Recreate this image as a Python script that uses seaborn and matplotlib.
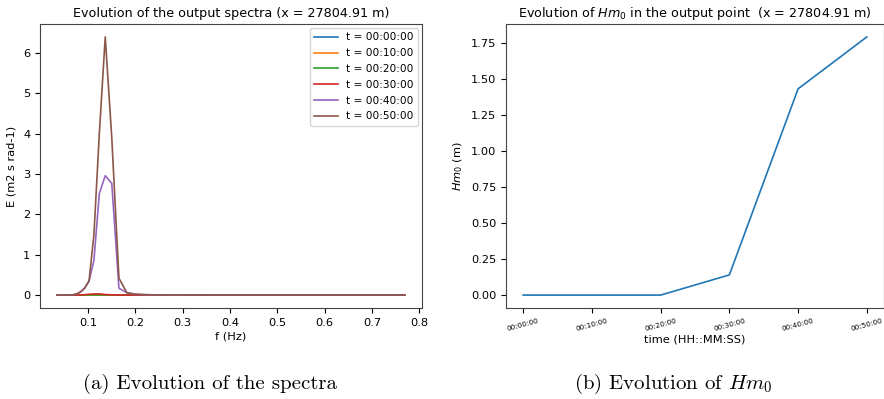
import numpy as np
import pandas as pd
import matplotlib
matplotlib.use("Agg")
import matplotlib.pyplot as plt
import seaborn as sns

# ---------------- data ----------------
freq = [0.0357, 0.0393, 0.0433, 0.0476, 0.0524, 0.0577, 0.0635, 0.0699, 0.0769,
        0.0847, 0.0932, 0.1026, 0.1129, 0.1243, 0.1368, 0.1506, 0.1657, 0.1824,
        0.2008, 0.2210, 0.2432, 0.2677, 0.2947, 0.3243, 0.3570, 0.3930, 0.4325,
        0.4761, 0.5240, 0.5767, 0.6348, 0.6987, 0.7690]

times = ["00:00:00", "00:10:00", "00:20:00", "00:30:00", "00:40:00", "00:50:00"]

E_t00 = [0.0] * 33
E_t10 = [0.0] * 33
E_t20 = [0, 0, 0, 0, 0, 0, 0, 0, 0, 0, 0.001, 0.002, 0.004, 0.005, 0.003, 0.001,
         0, 0, 0, 0, 0, 0, 0, 0, 0, 0, 0, 0, 0, 0, 0, 0, 0]
E_t30 = [0, 0, 0, 0, 0, 0, 0, 0, 0.001, 0.003, 0.01, 0.02, 0.028, 0.03, 0.015, 0.005,
         0.002, 0.001, 0, 0, 0, 0, 0, 0, 0, 0, 0, 0, 0, 0, 0, 0, 0]
E_t40 = [0, 0, 0, 0, 0, 0, 0.002, 0.01, 0.03, 0.08, 0.17, 0.35, 0.86, 2.52, 2.96,
         2.77, 0.17, 0.06, 0.02, 0.01, 0.005, 0.003, 0.002, 0.001, 0, 0, 0, 0, 0, 0, 0, 0, 0]
E_t50 = [0, 0, 0, 0, 0, 0, 0.002, 0.01, 0.03, 0.08, 0.17, 0.35, 1.5, 4.0, 6.40,
         3.9, 0.42, 0.06, 0.02, 0.01, 0.005, 0.003, 0.002, 0.001, 0, 0, 0, 0, 0, 0, 0, 0, 0]

spectra = [E_t00, E_t10, E_t20, E_t30, E_t40, E_t50]

hm0 = [0.0, 0.0, 0.0, 0.14, 1.43, 1.79]

# ---------------- figure ----------------
plt.rcParams["mathtext.fontset"] = "dejavusans"
plt.rcParams["axes.edgecolor"] = "#444444"
fig = plt.figure(figsize=(8.84, 3.99), dpi=100)
ax1 = fig.add_axes([40 / 884, (399 - 308) / 399, (422 - 40) / 884, (308 - 24) / 399])
ax2 = fig.add_axes([506 / 884, (399 - 308) / 399, (884 - 506) / 884, (308 - 24) / 399])

palette = ["#1f77b4", "#ff7f0e", "#2ca02c", "#d62728", "#9467bd", "#8c564b"]
rows = []
for t, E in zip(times, spectra):
    for f, e in zip(freq, E):
        rows.append({"f": f, "E": e, "t": "t = " + t})
df = pd.DataFrame(rows)
sns.lineplot(data=df, x="f", y="E", hue="t", palette=palette, ax=ax1, lw=1.2)
ax1.set_xlabel("f (Hz)", fontsize=8.2, labelpad=3)
ax1.set_ylabel("E (m2 s rad-1)", fontsize=8.2, labelpad=5)
ax1.set_title("Evolution of the output spectra (x = 27804.91 m)", fontsize=9.2, pad=5)
ax1.tick_params(labelsize=8.2, width=0.8, length=3.5)
ax1.set_xticks([0.1, 0.2, 0.3, 0.4, 0.5, 0.6, 0.7, 0.8])
ax1.set_yticks([0, 1, 2, 3, 4, 5, 6])
ax1.legend(loc="upper right", fontsize=7.6, title=None, handlelength=2.2,
           labelspacing=0.55, borderaxespad=0.4)

df2 = pd.DataFrame({"time": np.arange(len(times)), "hm0": hm0})
sns.lineplot(data=df2, x="time", y="hm0", ax=ax2, color="#1f77b4", lw=1.2)
ax2.set_xticks(df2["time"])
ax2.set_xticklabels(times, rotation=15, fontsize=5.2)
ax2.set_xlabel("time (HH::MM:SS)", fontsize=8.2, labelpad=2)
ax2.set_ylabel("$Hm_0$ (m)", fontsize=8.2)
ax2.set_title("Evolution of $Hm_0$ in the output point  (x = 27804.91 m)", fontsize=9.2, pad=5)
ax2.tick_params(axis="y", labelsize=8.2)
ax2.tick_params(width=0.8, length=3.5)
ax2.set_yticks([0, 0.25, 0.5, 0.75, 1.0, 1.25, 1.5, 1.75])
ax2.set_yticklabels(["0.00", "0.25", "0.50", "0.75", "1.00", "1.25", "1.50", "1.75"])

for ax in (ax1, ax2):
    for s in ax.spines.values():
        s.set_linewidth(0.8)

fig.text(210 / 884, 1 - 384 / 399, "(a) Evolution of the spectra", ha="center",
         va="center", fontsize=15, family="cmr10")
fig.text(673 / 884, 1 - 384 / 399, r"(b) Evolution of $Hm_0$", ha="center",
         va="center", fontsize=15, family="cmr10", math_fontfamily="cm")

fig.savefig("out.png", dpi=100)
